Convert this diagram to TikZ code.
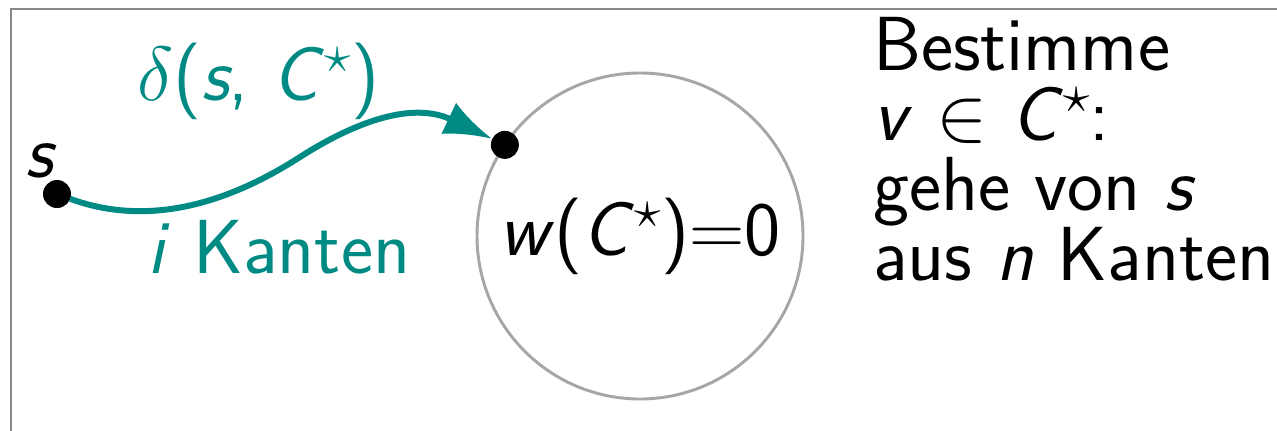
\RequirePackage{fix-cm}
\documentclass[tikz,border=0pt]{standalone}
\usetikzlibrary{arrows.meta}
\renewcommand{\familydefault}{\sfdefault}
\definecolor{tealc}{RGB}{0,138,132}
\definecolor{framec}{RGB}{136,136,136}
\definecolor{circc}{RGB}{166,166,166}
\newcommand{\mi}[1]{\textit{#1}}
\begin{document}
\begin{tikzpicture}[x=0.75pt,y=-0.75pt,
  every node/.style={inner sep=0pt, outer sep=0pt},
  bigfont/.style={font=\fontsize{57.5pt}{52.5pt}\selectfont},
  dotnode/.style={circle, fill=black, minimum size=21pt},
  cyclenode/.style={circle, draw=circc, line width=2.2pt, minimum size=244.5pt, bigfont},
  pathedge/.style={draw=tealc, line width=4.5pt, -{Latex[length=36pt,width=26pt]}},
  lbl/.style={bigfont, anchor=base west}]
\useasboundingbox (0,0) rectangle (1277,430);
\clip (0,0) rectangle (1277,430);
\draw[framec, line width=2.2pt] (11,460) |- (1300,9);
\node[cyclenode] (C) at (640,236) {\raisebox{-3pt}{\mi{w}(\mi{C}$^{\star}$)$=$0}};
\node[dotnode] (s) at (57,194) {};
\node[dotnode] (t) at (C.146) {};
\node[lbl] (slab) at (25,177) {\mi{s}};
\coordinate (m) at (300,157);
\draw[pathedge] (s) .. controls (150,228) and (230,202) .. (m)
  .. controls (350,125) and (410,100) .. (t);
\node[lbl, text=tealc] (dlab) at (137,100) {$\delta$(\mi{s}, \mi{C}$^{\star}$)};
\node[lbl, text=tealc] (ilab) at (147,273) {\mi{i} Kanten};
\node[lbl, align=left, anchor=north west] (txt) at (873,72-55) {Bestimme\\ \mi{v} $\in$ \mi{C}$^{\star}$:\\ gehe von \mi{s}\\ aus \mi{n} Kanten};
\end{tikzpicture}
\end{document}
